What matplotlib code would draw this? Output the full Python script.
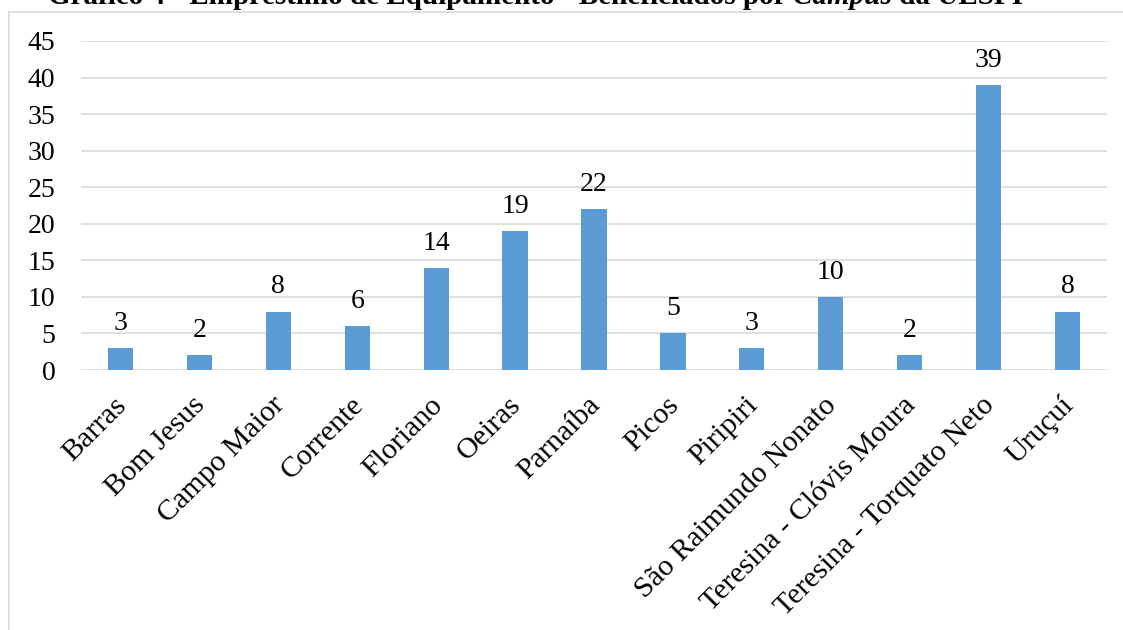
import matplotlib
matplotlib.use("Agg")
import matplotlib.pyplot as plt
from matplotlib.lines import Line2D

categories = ["Barras", "Bom Jesus", "Campo Maior", "Corrente", "Floriano", "Oeiras",
              "Parnaíba", "Picos", "Piripiri", "São Raimundo Nonato",
              "Teresina - Clóvis Moura", "Teresina - Torquato Neto", "Uruçuí"]
values = [3, 2, 8, 6, 14, 19, 22, 5, 3, 10, 2, 39, 8]
yticks = [0, 5, 10, 15, 20, 25, 30, 35, 40, 45]
title_parts = [("Gráfico 4 - Empréstimo de Equipamento - Beneficiados por ", "normal"),
               ("Campus", "italic"), (" da UESPI", "normal")]

plt.rcParams['font.family'] = ['Liberation Serif', 'DejaVu Serif']

W, H = 1123, 630
FS = 20
fig = plt.figure(figsize=(W / 100, H / 100), dpi=100)
ax = fig.add_axes([81 / W, 1 - 370 / H, (1107 - 81) / W, (370 - 41) / H])

x = list(range(len(categories)))
ax.bar(x, values, width=0.32, color="#5b9bd5", zorder=3)
for xi, v in zip(x, values):
    ax.annotate(str(v), (xi, v), xytext=(0, 13), textcoords="offset points",
                ha="center", va="baseline", fontsize=FS, color="black")

ax.set_xlim(-0.5, len(categories) - 0.5)
ax.set_ylim(0, 45)
ax.set_yticks(yticks)
ax.set_yticklabels([str(t) for t in yticks], fontsize=FS)
ax.set_xticks(x)
ax.set_xticklabels(categories, fontsize=21.5, rotation=45, ha="right",
                   va="center_baseline", rotation_mode="anchor")
ax.tick_params(axis="y", length=0, pad=18.5)
ax.tick_params(axis="x", length=0, pad=21)
ax.grid(axis="y", color="#d9d9d9", linewidth=1.2, zorder=0)
for s in ax.spines.values():
    s.set_visible(False)

# chart frame (top and left edges)
fig.add_artist(Line2D([9 / W, 1], [1 - 12 / H, 1 - 12 / H], color="#d9d9d9", lw=1.2))
fig.add_artist(Line2D([9 / W, 9 / W], [0, 1 - 12 / H], color="#d9d9d9", lw=1.2))

# title, partly cut off at top edge as in the source
fig.canvas.draw()
renderer = fig.canvas.get_renderer()
xpos = 48 / W
for s, style in title_parts:
    t = fig.text(xpos, 1 - 4.5 / H, s, fontsize=21, fontweight="bold", fontstyle=style,
                 ha="left", va="baseline")
    bb = t.get_window_extent(renderer)
    xpos += bb.width / W

fig.savefig("out.png", dpi=100)
